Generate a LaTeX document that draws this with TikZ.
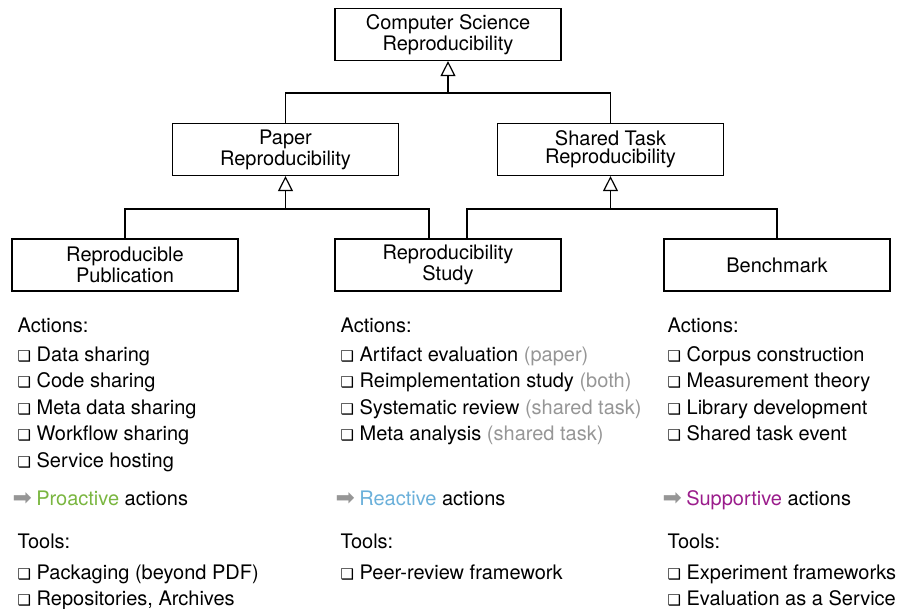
\documentclass[tikz,border=0pt]{standalone}
\usepackage{fontspec}
\setmainfont{TeX Gyre Heros}
\newfontfamily\dingfont{DejaVu Sans}
\usetikzlibrary{arrows.meta}

\definecolor{proactive}{RGB}{122,182,64}
\definecolor{reactive}{RGB}{107,176,218}
\definecolor{supportive}{RGB}{155,29,140}
\definecolor{note}{RGB}{150,150,150}

\newcommand{\chk}{{\dingfont\fontsize{7.5}{7.5}\selectfont ❑}\hspace{2.8pt}}
\newcommand{\arr}{{\dingfont\fontsize{11.5}{11.5}\selectfont\color{note}➡}\hspace{2.2pt}}

\tikzset{
  box/.style={draw, line width=0.6pt, minimum width=113pt, minimum height=26pt,
    inner sep=0pt, align=center, font=\fontsize{10}{9}\selectfont},
  uml/.style={-{Triangle[open, length=7.5pt, width=7.5pt]}},
  lbl/.style={anchor=base west, inner sep=0pt, font=\fontsize{10}{12}\selectfont},
}

\begin{document}
\begin{tikzpicture}[x=0.5pt, y=-0.5pt, line width=0.6pt]

\useasboundingbox (0,0) rectangle (898,609);

\def\colA{17}
\def\colB{340}
\def\colC{667}

%==== hierarchy ====
\node[box] (cs)     at (448,34.5)    {Computer Science\\Reproducibility};
\node[box] (paper)  at (285.5,149.5) {Paper\\Reproducibility};
\node[box] (shared) at (610.5,149.5) {Shared Task\\Reproducibility};
\node[box] (pub)    at (125,265)     {Reproducible\\Publication};
\node[box] (study)  at (448,265)     {Reproducibility\\Study};
\node[box] (bench)  at (777,265)     {Benchmark};

\coordinate (j0) at (448,93);
\coordinate (jp) at (285.5,209);
\coordinate (js) at (610.5,209);

\draw[uml] (j0) -- (cs.south);
\draw (paper.north) |- (j0) -| (shared.north);

\draw[uml] (jp) -- (paper.south);
\draw[uml] (js) -- (shared.south);
\draw (pub.north) |- (jp) -| ([xshift=-9.5pt]study.north);
\draw ([xshift=9.5pt]study.north) |- (js) -| (bench.north);

%==== (1) Reproducible Publication ====
\node[lbl] (pub-act) at (\colA,332) {Actions:};
\foreach \t [count=\i] in {Data sharing, Code sharing, Meta data sharing,
    Workflow sharing, Service hosting}
  \node[lbl] (pub-a\i) at (\colA,334.5+26.5*\i) {\chk\t};
\node[lbl] (pub-res) at (\colA-5,505) {\arr\textcolor{proactive}{Proactive} actions};
\node[lbl] (pub-tools) at (\colA,548) {Tools:};
\foreach \t [count=\i] in {Packaging (beyond PDF), {Repositories, Archives}}
  \node[lbl] (pub-t\i) at (\colA,553+26*\i) {\chk\t};

%==== (2) Reproducibility Study ====
\node[lbl] (study-act) at (\colB,332) {Actions:};
\foreach \t [count=\i] in {Artifact evaluation {\color{note}(paper)},
    Reimplementation study {\color{note}(both)},
    Systematic review {\color{note}(shared task)},
    Meta analysis {\color{note}(shared task)}}
  \node[lbl] (study-a\i) at (\colB,334.5+26.5*\i) {\chk\t};
\node[lbl] (study-res) at (\colB-5,505) {\arr\textcolor{reactive}{Reactive} actions};
\node[lbl] (study-tools) at (\colB,548) {Tools:};
\node[lbl] (study-t1) at (\colB,579) {\chk Peer-review framework};

%==== (3) Benchmark ====
\node[lbl] (bench-act) at (\colC,332) {Actions:};
\foreach \t [count=\i] in {Corpus construction, Measurement theory,
    Library development, Shared task event}
  \node[lbl] (bench-a\i) at (\colC,334.5+26.5*\i) {\chk\t};
\node[lbl] (bench-res) at (\colC-5,505) {\arr\textcolor{supportive}{Supportive} actions};
\node[lbl] (bench-tools) at (\colC,548) {Tools:};
\foreach \t [count=\i] in {Experiment frameworks, Evaluation as a Service}
  \node[lbl] (bench-t\i) at (\colC,553+26*\i) {\chk\t};

\end{tikzpicture}
\end{document}
